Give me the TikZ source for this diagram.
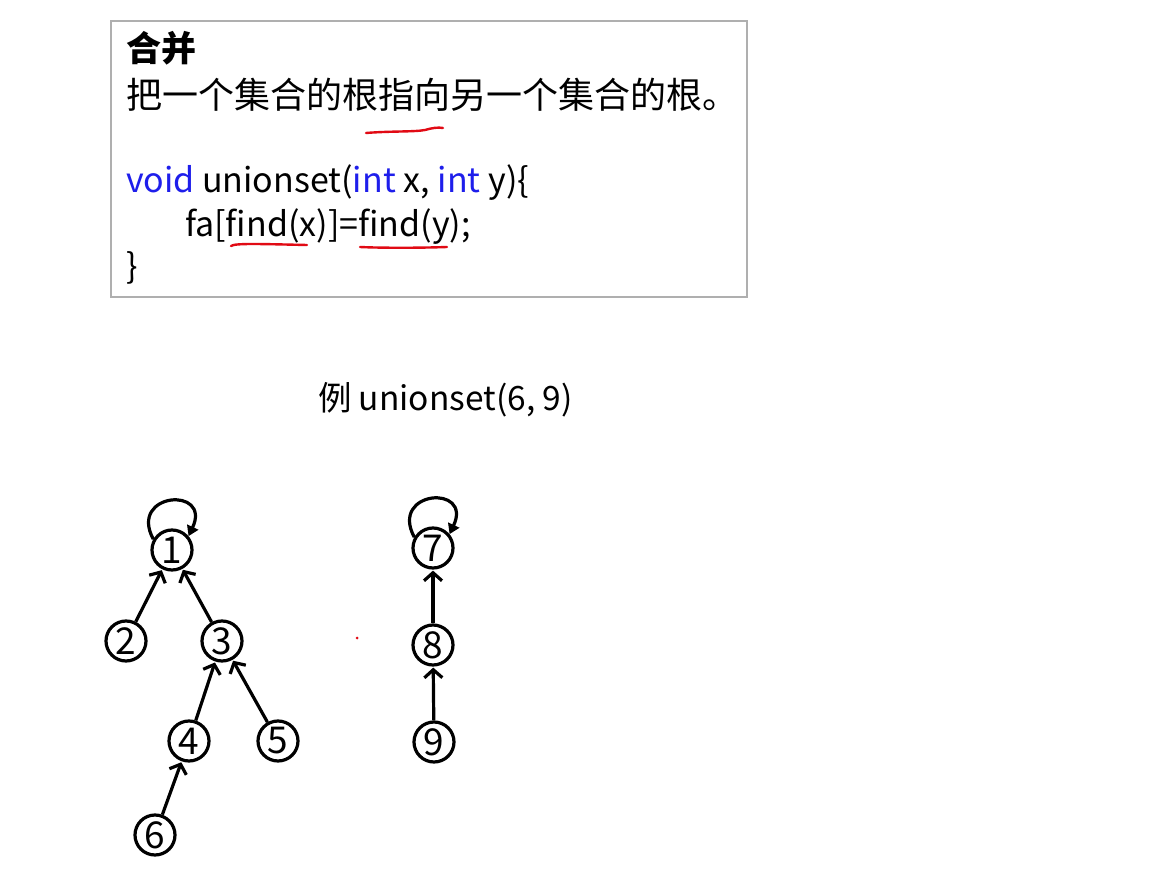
\documentclass[tikz,border=0pt]{standalone}
\usepackage{fontspec}
\setmainfont{Noto Sans CJK SC}
\usetikzlibrary{arrows.meta}
\definecolor{kwblue}{RGB}{30,30,235}
\definecolor{inkred}{RGB}{225,10,20}
\definecolor{boxgray}{RGB}{175,175,175}
\tikzset{
  txt/.style={anchor=base west, inner sep=0pt, outer sep=0pt, font=\fontsize{34}{40}\selectfont},
  vert/.style={circle, draw, line width=3.2pt, minimum size=40pt, inner sep=0pt, font=\fontsize{37}{40}\selectfont\addfontfeatures{}},
  edge/.style={line width=3.2pt, -{Straight Barb[length=8pt,width=18pt,line width=3.2pt]}, shorten >=1pt},
  selfloop/.style={line width=3.2pt, -{Triangle[length=10pt,width=12pt]}},
  redline/.style={draw=inkred, line width=2.4pt, line cap=round}
}
\begin{document}
\begin{tikzpicture}[x=1pt,y=-1pt]
\useasboundingbox (0,0) rectangle (1151,874);
% box
\draw[boxgray, line width=1.6pt] (111,21) rectangle (747,297);
\node[txt, font=\fontsize{35}{40}\selectfont\bfseries] (title) at (126,62) {合并};
\node[txt, font=\fontsize{36}{40}\selectfont] (desc) at (126,109) {把一个集合的根指向另一个集合的根。};
\node[txt] (code1) at (126,193) {\textcolor{kwblue}{void} unionset(\textcolor{kwblue}{int} x, \textcolor{kwblue}{int} y)\{};
\node[txt] (code2) at (185,237) {fa[find(x)]=find(y);};
\node[txt] (code3) at (126,279) {\}};
% red marks
\draw[redline] (366,133) .. controls (390,131) and (415,132) .. (425,130) .. controls (432,128) and (438,127) .. (443,128);
\draw[redline] (231,246) .. controls (235,243) and (260,244) .. (307,245);
\draw[redline] (360,247) .. controls (380,248) and (420,248) .. (447,247);
% example title
\node[txt, font=\fontsize{33.5}{38}\selectfont] (ex) at (318,410) {例 unionset(6, 9)};
% tree 1
\node[vert] (n1) at (172,550) {1};
\node[vert] (n2) at (126,641) {2};
\node[vert] (n3) at (222,641) {3};
\node[vert] (n4) at (189,741) {4};
\node[vert] (n5) at (278,741) {5};
\node[vert] (n6) at (155,835) {6};
% tree 2
\node[vert] (n7) at (433,548) {7};
\node[vert] (n8) at (433,645) {8};
\node[vert] (n9) at (434,742) {9};
% edges
\draw[edge] (n2) -- (n1);
\draw[edge] (n3) -- (n1);
\draw[edge] (n4) -- (n3);
\draw[edge] (n5) -- (n3);
\draw[edge] (n6) -- (n4);
\draw[edge] (n8) -- (n7);
\draw[edge] (n9) -- (n8);
% self loops
\draw[selfloop] (n1.150) .. controls (128,492) and (212,486) .. (n1.40);
\draw[selfloop] (n7.150) .. controls (389,490) and (473,484) .. (n7.40);
% red dot
\fill[inkred] (357,638) circle (1.5pt);
\end{tikzpicture}
\end{document}
